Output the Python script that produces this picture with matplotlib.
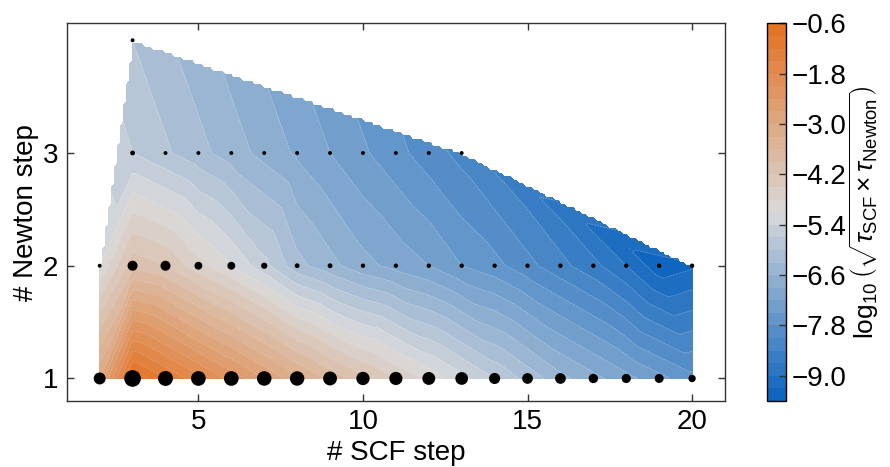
import numpy as np
import matplotlib
matplotlib.use("Agg")
import matplotlib.pyplot as plt
import matplotlib.tri as mtri
from matplotlib.colors import LinearSegmentedColormap

plt.rcParams['font.family'] = ['Liberation Sans', 'DejaVu Sans']
plt.rcParams['mathtext.fontset'] = 'custom'
plt.rcParams['mathtext.rm'] = 'Liberation Sans'
plt.rcParams['mathtext.it'] = 'Liberation Sans:italic'
plt.rcParams['mathtext.bf'] = 'Liberation Sans:bold'
plt.rcParams['axes.unicode_minus'] = True

# SCF steps sampled for each number of Newton steps
scf_n1 = list(range(2, 21))
scf_n2 = list(range(2, 21))
scf_n3 = list(range(3, 14))
scf_n4 = [3]

# log10 of sqrt(tau_SCF * tau_Newton) at each sampled point
logtau_n1 = [-3.0, -0.7, -1.2, -1.7, -2.2, -2.7, -3.2, -3.7, -4.1, -4.5,
             -4.9, -5.3, -5.7, -6.1, -6.5, -6.8, -7.1, -7.4, -7.7]
logtau_n2 = [-5.1, -4.0, -4.2, -4.7, -5.1, -5.6, -6.2, -6.5, -6.8, -7.0,
             -7.2, -7.5, -7.7, -8.0, -8.3, -8.6, -9.0, -9.5, -9.35]
logtau_n3 = [-5.7, -5.95, -6.2, -6.45, -6.7, -6.95, -7.2, -7.45, -7.7, -7.95, -8.2]
logtau_n4 = [-6.0]

# number of runs ending at each (SCF, Newton) combination
runs_n1 = [37, 72, 58, 56, 56, 55, 54, 50, 46, 45,
           43, 42, 32, 30, 30, 23, 22, 21, 14]
runs_n2 = [4, 26, 26, 16, 16, 10, 6, 6, 5, 5,
           5, 5, 5, 5, 5, 5, 5, 5, 5]
runs_n3 = [6, 4, 4, 4, 4, 4, 4, 4, 4, 4, 4]
runs_n4 = [4]

scf = np.array(scf_n1 + scf_n2 + scf_n3 + scf_n4, dtype=float)
newton = np.array([1] * len(scf_n1) + [2] * len(scf_n2)
                  + [3] * len(scf_n3) + [4] * len(scf_n4), dtype=float)
logtau = np.array(logtau_n1 + logtau_n2 + logtau_n3 + logtau_n4)
runs = np.array(runs_n1 + runs_n2 + runs_n3 + runs_n4, dtype=float)

# linear interpolation on a regular grid, masked outside the convex hull
tri = mtri.Triangulation(scf, newton)
interp = mtri.LinearTriInterpolator(tri, logtau)
xi = np.linspace(scf.min(), scf.max(), 200)
yi = np.linspace(newton.min(), newton.max(), 100)
XI, YI = np.meshgrid(xi, yi)
ZI = interp(XI, YI)

levels = np.linspace(-9.6, -0.6, 31)
cmap = LinearSegmentedColormap.from_list(
    "tau", ["#0a62bd", "#d9dadb", "#e3701f"])

fig = plt.figure(figsize=(8.9, 4.67), dpi=100)
ax = fig.add_axes([0.075, 0.1413, 0.7396, 0.8087])
cax = fig.add_axes([0.8615, 0.1413, 0.0213, 0.8087])

cs = ax.contourf(XI, YI, ZI, levels=levels, cmap=cmap)
ax.contour(XI, YI, ZI, levels=levels, colors="white", linewidths=0.4, alpha=0.35)
ax.scatter(scf, newton, s=2.0 * runs, c="black", linewidths=0, zorder=3)

ax.set_xlim(1, 21)
ax.set_ylim(0.8, 4.15)
ax.set_xticks([5, 10, 15, 20])
ax.set_yticks([1, 2, 3])
ax.tick_params(direction="in", top=True, right=True, length=5, width=1,
               labelsize=20, color="#333333", pad=6)
for sp in ax.spines.values():
    sp.set_color("#333333")
    sp.set_linewidth(1.0)
ax.set_xlabel("# SCF step", fontsize=20, labelpad=3)
ax.set_ylabel("# Newton step", fontsize=20, labelpad=3)

cbar = fig.colorbar(cs, cax=cax)
cbar.set_ticks(levels[2::4])
cbar.ax.tick_params(direction="in", length=5, width=1, labelsize=20,
                    color="#333333", pad=4)
cbar.outline.set_linewidth(1.0)
cbar.set_label(r"$\log_{10}\left(\sqrt{\tau_{\rm SCF}\times\tau_{\rm Newton}}\right)$",
               fontsize=19, labelpad=1)

fig.savefig("out.png", dpi=100)
